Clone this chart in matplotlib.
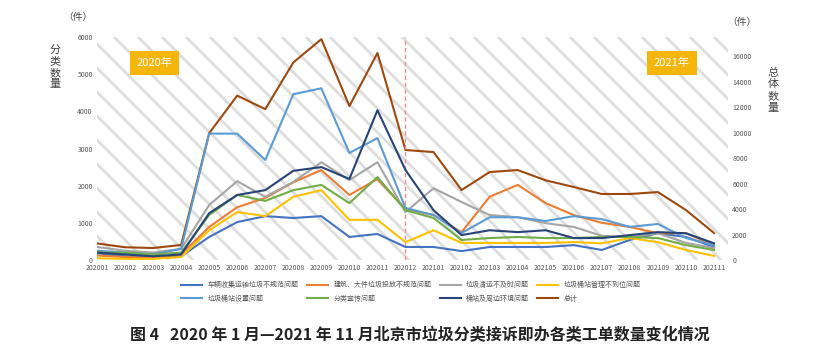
import numpy as np
import matplotlib
matplotlib.use('Agg')
import matplotlib.pyplot as plt

plt.rcParams['font.family'] = ['Noto Sans CJK SC', 'DejaVu Sans']

# ===== data =====
months = ['202001', '202002', '202003', '202004', '202005', '202006', '202007', '202008',
          '202009', '202010', '202011', '202012', '202101', '202102', '202103', '202104',
          '202105', '202106', '202107', '202108', '202109', '202110', '202111']

vehicle = [180, 100, 80, 100, 620, 1020, 1180, 1130, 1180, 620, 700, 350,
           350, 240, 350, 350, 350, 400, 270, 540, 720, 620, 350]
bulky = [120, 80, 60, 150, 890, 1420, 1670, 2090, 2420, 1750, 2180, 1370,
         1210, 750, 1700, 2020, 1530, 1210, 1000, 890, 720, 720, 400]
transport = [350, 250, 200, 300, 1480, 2120, 1700, 2100, 2630, 2150, 2630, 1290,
             1930, 1560, 1210, 1150, 990, 890, 650, 620, 720, 460, 320]
station_mgmt = [50, 30, 30, 80, 800, 1290, 1180, 1700, 1880, 1080, 1080, 480,
                800, 460, 460, 460, 460, 480, 450, 590, 480, 270, 110]
bin_setting = [250, 200, 150, 300, 3400, 3400, 2690, 4460, 4620, 2880, 3280, 1400,
               1210, 725, 1150, 1150, 1050, 1180, 1100, 890, 970, 590, 400]
sorting = [200, 200, 150, 200, 1210, 1750, 1590, 1880, 2020, 1530, 2230, 1340,
           1130, 540, 590, 620, 590, 590, 620, 620, 590, 400, 270]
environment = [200, 150, 100, 150, 1260, 1750, 1880, 2400, 2500, 2180, 4030, 2420,
               1340, 670, 800, 750, 800, 590, 590, 670, 750, 720, 450]
total = [1300, 1000, 940, 1180, 9950, 12900, 11840, 15500, 17330, 12080, 16240, 8630,
         8470, 5490, 6900, 7060, 6250, 5730, 5180, 5180, 5330, 3920, 2120]

labels = ['车辆收集运输垃圾不规范问题', '建筑、大件垃圾投放不规范问题', '垃圾清运不及时问题',
          '垃圾桶站管理不到位问题', '垃圾桶站设置问题', '分类宣传问题', '桶站及周边环境问题', '总计']
colors = ['#4472C4', '#ED7D31', '#A5A5A5', '#FFC000', '#5B9BD5', '#70AD47', '#264478', '#9E480E']

left_ticks = [0, 1000, 2000, 3000, 4000, 5000, 6000]
right_ticks = [0, 2000, 4000, 6000, 8000, 10000, 12000, 14000, 16000]

# ===== figure =====
W, H = 631, 223  # plot area in pixels
fig = plt.figure(figsize=(8.39, 3.62), dpi=100)
ax = fig.add_axes([97 / 839, 1 - 260 / 362, W / 839, H / 362])
ax2 = ax.twinx()
ax.set_zorder(ax2.get_zorder() + 1)
ax.patch.set_visible(False)
ax2.set_facecolor('#f3f3f3')

# diagonal background stripes (decoration, axes coordinates)
for px in range(-H, W + 1, 24):
    ax2.plot([px / W, (px + H) / W], [1, 0], transform=ax2.transAxes,
             color='#dddddd', lw=2.0, solid_capstyle='butt', zorder=0)

x = np.arange(len(months))
series = [vehicle, bulky, transport, station_mgmt, bin_setting, sorting, environment]
handles = []
for vals, lab, c in zip(series, labels[:7], colors[:7]):
    h, = ax.plot(x, vals, color=c, lw=1.5, label=lab)
    handles.append(h)
h, = ax.plot([], [], color=colors[7], lw=1.5, label=labels[7])
handles.append(h)
ax2.plot(x, total, color=colors[7], lw=1.5, zorder=2)

ax.axvline(11, color='#F08C8C', lw=1, ls=(0, (3, 2)), zorder=1)

ax.set_xlim(0, 22.5)
ax2.set_xlim(0, 22.5)
ax.set_ylim(0, 6000)
ax2.set_ylim(0, 17500)
ax.set_yticks(left_ticks)
ax2.set_yticks(right_ticks)
ax.set_xticks(x)
ax.set_xticklabels(months)
for a in (ax, ax2):
    for s in a.spines.values():
        s.set_visible(False)
    a.tick_params(length=0, labelsize=5, labelcolor='#555555', pad=3)

# year boxes
box = dict(boxstyle='square,pad=0.6', facecolor='#F5B50A', edgecolor='none')
ax.text(2.05, 5300, '2020年', color='white', fontsize=8, ha='center', va='center', bbox=box)
ax.text(20.5, 5300, '2021年', color='white', fontsize=8, ha='center', va='center', bbox=box)

# axis titles
fig.text(78 / 839, 1 - 17 / 362, '（件）', fontsize=7, color='#444444', ha='center', va='center')
fig.text(742 / 839, 1 - 22 / 362, '（件）', fontsize=7, color='#444444', ha='center', va='center')
fig.text(55 / 839, 1 - 67 / 362, '分\n类\n数\n量', fontsize=8, color='#444444',
         ha='center', va='center', linespacing=1.2)
fig.text(773 / 839, 1 - 90 / 362, '总\n体\n数\n量', fontsize=8, color='#444444',
         ha='center', va='center', linespacing=1.2)

# legend, row-wise order
order = [0, 4, 1, 5, 2, 6, 3, 7]
fig.legend([handles[i] for i in order], [labels[i] for i in order], ncol=4,
           loc='center', bbox_to_anchor=(0.49, 1 - 292 / 362), frameon=False,
           fontsize=5, handlelength=3, columnspacing=1.2, labelspacing=0.8,
           labelcolor='#555555')

fig.text(0.5, 1 - 335 / 362,
         '图 4   2020 年 1 月—2021 年 11 月北京市垃圾分类接诉即办各类工单数量变化情况',
         fontsize=11.5, fontweight='bold', ha='center', va='center', color='#222222')

fig.savefig('out.png', dpi=100)
